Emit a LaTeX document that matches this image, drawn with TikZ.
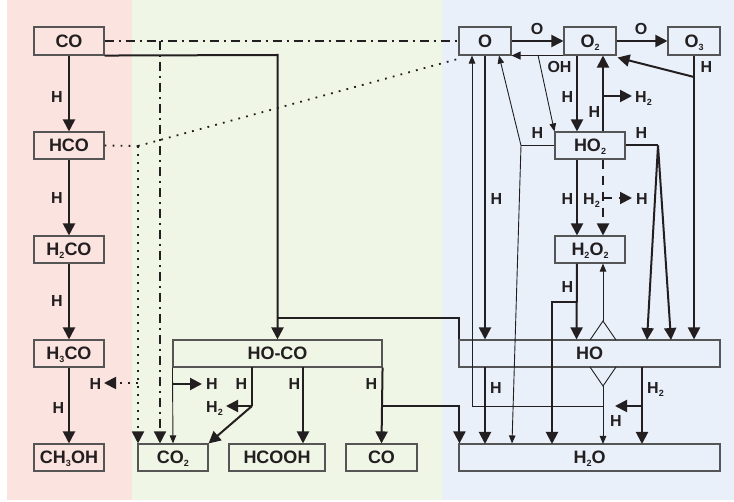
\documentclass[tikz,border=0pt]{standalone}
\usepackage{fontspec}
\setmainfont{Liberation Sans}
\usetikzlibrary{arrows.meta,calc}
\definecolor{pinkbg}{HTML}{FBE3DF}
\definecolor{greenbg}{HTML}{F0F6E6}
\definecolor{bluebg}{HTML}{E9F0FA}
\definecolor{ink}{HTML}{231F20}
\definecolor{boxline}{HTML}{555555}
\newcommand\sbs[1]{\raisebox{-3pt}{\fontsize{9}{9}\selectfont #1}}
\begin{document}
\begin{tikzpicture}[x=1pt,y=-1pt,
  box/.style={draw=boxline,line width=1.1pt,inner sep=0pt,text=ink,
    font=\fontsize{18}{18}\selectfont\bfseries,text height=13pt,text depth=0pt},
  lab/.style={inner sep=0pt,text=ink,font=\fontsize{16}{16}\selectfont\bfseries,
    text height=11.5pt,text depth=0pt},
  thk/.style={draw=ink,line width=2pt},
  thn/.style={draw=ink,line width=0.9pt},
  tipB/.style={-{Triangle[length=12pt,width=12pt]}},
  tipS/.style={-{Triangle[length=8pt,width=6.5pt]}},
  tipM/.style={-{Triangle[length=9pt,width=8pt]}},
  ddot/.style={draw=ink,line width=1.5pt,dash pattern=on 9pt off 5pt on 2pt off 5pt},
  dotln/.style={draw=ink,line width=1.8pt,dash pattern=on 1.8pt off 6.2pt},
  dsh/.style={dash pattern=on 9pt off 7pt},
]
\useasboundingbox (0,0) rectangle (734,502);
\fill[pinkbg] (7,0) rectangle (132,500);
\fill[greenbg] (132,0) rectangle (442,500);
\fill[bluebg] (442,0) rectangle (734,500);

% boxes
\node[box,minimum width=70pt,minimum height=28pt] (CO) at (69,41) {CO};
\node[box,minimum width=70pt,minimum height=27pt] (HCO) at (69,145.5) {HCO};
\node[box,minimum width=70pt,minimum height=27pt] (H2CO) at (69,249.5) {H\sbs{2}CO};
\node[box,minimum width=70pt,minimum height=27pt] (H3CO) at (69,353.5) {H\sbs{3}CO};
\node[box,minimum width=70pt,minimum height=27pt] (CH3OH) at (69,457.5) {CH\sbs{3}OH};
\node[box,minimum width=70pt,minimum height=27pt] (CO2) at (173,457.5) {CO\sbs{2}};
\node[box,minimum width=96pt,minimum height=27pt] (HCOOH) at (277,457.5) {HCOOH};
\node[box,minimum width=71pt,minimum height=27pt] (COr) at (381.5,457.5) {CO};
\node[box,minimum width=209pt,minimum height=27pt] (HOCO) at (277.5,353.5) {HO-CO};
\node[box,minimum width=52pt,minimum height=28pt] (O) at (485,41) {O};
\node[box,minimum width=52pt,minimum height=28pt] (O2) at (590,41) {O\sbs{2}};
\node[box,minimum width=52pt,minimum height=28pt] (O3) at (694,41) {O\sbs{3}};
\node[box,minimum width=70pt,minimum height=27pt] (HO2) at (590,145.5) {HO\sbs{2}};
\node[box,minimum width=70pt,minimum height=27pt] (H2O2) at (590,249.5) {H\sbs{2}O\sbs{2}};
\node[box,minimum width=261pt,minimum height=27pt] (HO) at (589.5,353.5) {HO};
\node[box,minimum width=261pt,minimum height=27pt] (H2O) at (589.5,457.5) {H\sbs{2}O};

% junction coordinates
\coordinate (ddj) at (160,41);
\coordinate (dj) at (138,146);
\coordinate (dh) at (138,383);
\coordinate (cj1) at (277.5,55);
\coordinate (cj2) at (277.5,318);
\coordinate (gj1) at (173,384);
\coordinate (gj2) at (252,406);
\coordinate (gj3) at (382,406);
\coordinate (oh) at (538,55);
\coordinate (o3j) at (694,77);
\coordinate (hj) at (521,145.5);
\coordinate (rj) at (658,145.5);
\coordinate (vt) at (603,321);
\coordinate (vb) at (603,386);
\coordinate (lj) at (472,406);
\coordinate (pj) at (577,302);
\coordinate (qj) at (642,406);
\coordinate (h2j) at (603,96);
\coordinate (dj2) at (603,198);

% left column
\draw[thk,tipB] (CO) -- (HCO);
\draw[thk,tipB] (HCO) -- (H2CO);
\draw[thk,tipB] (H2CO) -- (H3CO);
\draw[thk,tipB] (H3CO) -- (CH3OH);

% dash-dot from CO
\draw[ddot] (CO.east) -- (O.west);
\draw[ddot,tipB] (ddj) -- (ddj |- CO2.north);

% dotted from HCO
\draw[dotln] (HCO.east) -- (dj);
\draw[dotln,tipB] (dj) -- (dj |- CO2.north);
\draw[dotln] (dj) -- ([xshift=1pt,yshift=-3pt]O.south west);
\draw[dotln,tipB] (dh) -- (104,383);

% CO -> HO-CO and HO
\draw[thk,tipB] (CO.south east) -- (cj1) -- (HOCO.north);
\draw[thk] (cj2) -| ([xshift=1pt]HO.north west);

% HO-CO products
\draw[thn,tipS] (HOCO.south west) -- (CO2.north);
\draw[thk,tipB] (gj1) -- (202,384);
\draw[thk] (252,367) -- (gj2);
\draw[thk,tipB] (gj2) -- (226,406);
\draw[thk,tipB] (gj2) -- (CO2.north east);
\draw[thk,tipB] (303,367) -- ([xshift=26pt]HCOOH.north);
\draw[thk,tipB] (HOCO.south east) -- (COr.north);
\draw[thk,tipB] (gj3) -| ([xshift=1pt]H2O.north west);

% top row
\draw[thk,tipB] (O) -- (O2);
\draw[thk,tipB] (O2) -- (O3);
\draw[thn,tipM] (O2.south west) -- (O.south east);
\draw[thk,tipB] (O3.south) -- (O3.south |- HO.north);
\draw[thk,tipB] (o3j) -- ([xshift=1pt,yshift=-2pt]O2.south east);

% O2 <-> HO2
\draw[thk,tipB] ([xshift=-13pt]O2.south) -- ([xshift=-13pt]HO2.north);
\draw[thk,tipB] ([xshift=13pt]HO2.north) -- ([xshift=13pt]O2.south);
\draw[thk,tipB] (h2j) -- (632,96);

% thin links around O and HO2
\draw[thn,tipS] (oh) -- (HO2.north west);
\draw[thn] (HO2.west) -- (hj);
\draw[thn,tipS] (hj) -- ([xshift=14pt]O.south);
\draw[thn,tipS] (hj) -- ([xshift=-77.5pt]H2O.north);

% O <-> HO
\draw[thk,tipB] (O.south) -- ([xshift=-104.5pt]HO.north);
\draw[thn,tipS] (vb |- lj) -- (lj) -- (lj |- O.south);

% HO2 -> H2O2
\draw[thk,tipB] ([xshift=-13pt]HO2.south) -- ([xshift=-13pt]H2O2.north);
\draw[thk,dsh,tipB] ([xshift=13pt]HO2.south) -- ([xshift=13pt]H2O2.north);
\draw[thk,dsh,tipB] (dj2) -- (632,198);

% H2O2 -> HO / H2O
\draw[thk,tipB] ([xshift=-13pt]H2O2.south) -- ([xshift=-13pt]HO.north);
\draw[thk,tipB] (pj) -| (552,444);

% HO2 -> HO
\draw[thk] (HO2.east) -- (rj);
\draw[thk,tipB] (rj) -- (647,340);
\draw[thk,tipB] (rj) -- (671,340);

% HO + HO diamond
\draw[thn] (590,340) -- (vt) -- (616,340);
\draw[thn,tipS] (vt) -- ([xshift=13pt]H2O2.south);
\draw[thn] (590,367) -- (vb) -- (616,367);
\draw[thn,tipS] (vb) -- (603,444);

% HO -> H2O
\draw[thk,tipB] (485,367) -- (485,444);
\draw[thk,tipB] (642,367) -- (642,444);
\draw[thk,tipB] (qj) -- (615,406);

% labels
\node[lab] (l1) at (57,96.5) {H};
\node[lab] (l2) at (57,198) {H};
\node[lab] (l3) at (57,301) {H};
\node[lab] (l4) at (58.5,407.5) {H};
\node[lab] (l5) at (95.5,383.5) {H};
\node[lab] (l6) at (212,384) {H};
\node[lab] (l7) at (241.5,384) {H};
\node[lab,anchor=west] (l8) at (206,407) {H\sbs{2}};
\node[lab] (l9) at (294.5,384) {H};
\node[lab] (l10) at (371.5,384) {H};
\node[lab] (l11) at (537,28.5) {O};
\node[lab] (l12) at (641,28.5) {O};
\node[lab] (l13) at (559.5,66.7) {OH};
\node[lab] (l14) at (706.5,67) {H};
\node[lab] (l15) at (567.5,96.5) {H};
\node[lab,anchor=west] (l16) at (635,96.5) {H\sbs{2}};
\node[lab] (l17) at (594.5,111.7) {H};
\node[lab] (l18) at (537.5,133) {H};
\node[lab] (l19) at (641.5,133) {H};
\node[lab] (l20) at (496.5,198.5) {H};
\node[lab] (l21) at (567.5,198.5) {H};
\node[lab,anchor=west] (l22) at (583,198.5) {H\sbs{2}};
\node[lab] (l23) at (642,198.5) {H};
\node[lab] (l24) at (567.5,287) {H};
\node[lab] (l25) at (496,387.5) {H};
\node[lab,anchor=west] (l26) at (647,388) {H\sbs{2}};
\node[lab] (l27) at (616,420.5) {H};
\end{tikzpicture}
\end{document}
